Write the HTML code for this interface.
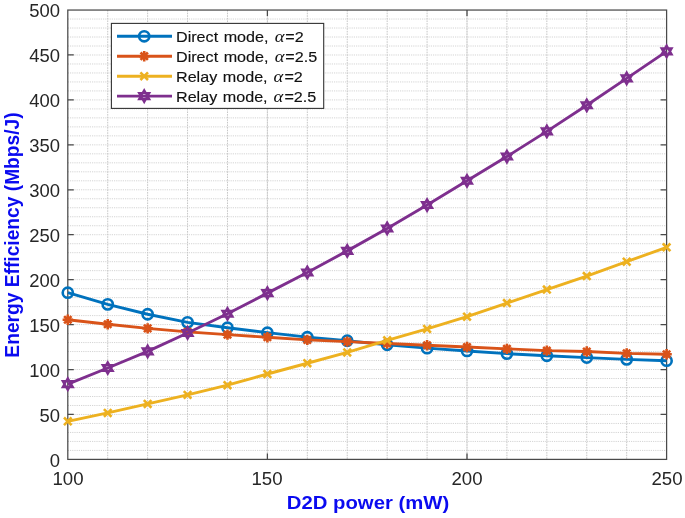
<!DOCTYPE html>
<html><head><meta charset="utf-8"><title>chart</title>
<style>
html,body{margin:0;padding:0;background:#fff}
#c{position:relative;width:685px;height:518px;overflow:hidden;background:#fff;font-family:"Liberation Sans",sans-serif;color:#262626}
.yt,.xt,.lg,#xl,#yl span{will-change:transform}
.yt{position:absolute;left:0;width:60px;text-align:right;font-size:18.1px;line-height:20px;height:20px;white-space:nowrap;transform:scaleX(1.02);transform-origin:100% 50%}
.xt{position:absolute;top:468.8px;width:60px;text-align:center;font-size:18.1px;line-height:20px;height:20px;white-space:nowrap;transform:scaleX(1.03);transform-origin:50% 50%}
.lg{position:absolute;left:175.6px;font-size:15px;line-height:19px;height:19px;white-space:nowrap;color:#111;-webkit-text-stroke:0.15px #111;transform:scaleX(1.075);transform-origin:0 50%;word-spacing:1px}
.lg i{font-family:"Liberation Serif",serif;font-style:italic;font-size:16.5px;display:inline-block;transform:scaleX(1.05);margin:0 1px 0 0.8px;line-height:19px;-webkit-text-stroke:0}
#xl{position:absolute;left:267.5px;width:400px;margin-left:-100px;text-align:center;top:492.8px;font-size:19.1px;line-height:20px;font-weight:bold;color:#0a0af0;white-space:nowrap;transform:scaleX(1.063);transform-origin:50% 50%}
#yl{position:absolute;left:11.6px;top:234.8px;width:0;height:0}
#yl span{position:absolute;left:-200px;width:400px;top:-10px;height:20px;line-height:20px;text-align:center;font-size:19px;font-weight:bold;color:#0a0af0;white-space:nowrap;transform:rotate(-90deg) scale(1.01,1.09);transform-origin:50% 50%}
</style></head><body>
<div id="c">
<svg width="685" height="518" viewBox="0 0 685 518" style="position:absolute;left:0;top:0">
<rect width="685" height="518" fill="#fff"/>
<path d="M67.8 450.41H666.6M67.8 441.43H666.6M67.8 432.44H666.6M67.8 423.45H666.6M67.8 414.46H666.6M67.8 405.48H666.6M67.8 396.49H666.6M67.8 387.50H666.6M67.8 378.52H666.6M67.8 369.53H666.6M67.8 360.54H666.6M67.8 351.56H666.6M67.8 342.57H666.6M67.8 333.58H666.6M67.8 324.60H666.6M67.8 315.61H666.6M67.8 306.62H666.6M67.8 297.63H666.6M67.8 288.65H666.6M67.8 279.66H666.6M67.8 270.67H666.6M67.8 261.69H666.6M67.8 252.70H666.6M67.8 243.71H666.6M67.8 234.72H666.6M67.8 225.74H666.6M67.8 216.75H666.6M67.8 207.76H666.6M67.8 198.78H666.6M67.8 189.79H666.6M67.8 180.80H666.6M67.8 171.82H666.6M67.8 162.83H666.6M67.8 153.84H666.6M67.8 144.86H666.6M67.8 135.87H666.6M67.8 126.88H666.6M67.8 117.89H666.6M67.8 108.91H666.6M67.8 99.92H666.6M67.8 90.93H666.6M67.8 81.95H666.6M67.8 72.96H666.6M67.8 63.97H666.6M67.8 54.99H666.6M67.8 46.00H666.6M67.8 37.01H666.6M67.8 28.02H666.6M67.8 19.04H666.6" stroke="#d4d4d4" stroke-width="1" stroke-dasharray="1.2 1" fill="none"/>
<path d="M267.40 10.05V459.4M467.00 10.05V459.4" stroke="#e4e4e4" stroke-width="1" fill="none"/>
<path d="M107.72 10.05V459.4M147.64 10.05V459.4M187.56 10.05V459.4M227.48 10.05V459.4M267.40 10.05V459.4M307.32 10.05V459.4M347.24 10.05V459.4M387.16 10.05V459.4M427.08 10.05V459.4M467.00 10.05V459.4M506.92 10.05V459.4M546.84 10.05V459.4M586.76 10.05V459.4M626.68 10.05V459.4" stroke="#c6c6c6" stroke-width="1" stroke-dasharray="1.6 1" fill="none"/>
<rect x="67.8" y="10.05" width="598.8000000000001" height="449.34999999999997" fill="none" stroke="#4a4a4a" stroke-width="1.25"/>
<path d="M267.40 459.4v-6M267.40 10.05v6M467.00 459.4v-6M467.00 10.05v6M67.8 414.46h6M666.6 414.46h-6M67.8 369.53h6M666.6 369.53h-6M67.8 324.60h6M666.6 324.60h-6M67.8 279.66h6M666.6 279.66h-6M67.8 234.72h6M666.6 234.72h-6M67.8 189.79h6M666.6 189.79h-6M67.8 144.86h6M666.6 144.86h-6M67.8 99.92h6M666.6 99.92h-6M67.8 54.99h6M666.6 54.99h-6" stroke="#4a4a4a" stroke-width="1.25" fill="none"/>
<g>
<polyline points="67.80,292.69 107.72,304.37 147.64,314.26 187.56,322.35 227.48,327.74 267.40,332.68 307.32,337.18 347.24,340.77 387.16,344.82 427.08,348.14 467.00,350.93 506.92,353.62 546.84,355.78 586.76,357.58 626.68,359.37 666.60,360.72" fill="none" stroke="#0072BD" stroke-width="2.9" stroke-linejoin="round"/><circle cx="67.80" cy="292.69" r="5.1" fill="none" stroke="#0072BD" stroke-width="2.6"/><circle cx="107.72" cy="304.37" r="5.1" fill="none" stroke="#0072BD" stroke-width="2.6"/><circle cx="147.64" cy="314.26" r="5.1" fill="none" stroke="#0072BD" stroke-width="2.6"/><circle cx="187.56" cy="322.35" r="5.1" fill="none" stroke="#0072BD" stroke-width="2.6"/><circle cx="227.48" cy="327.74" r="5.1" fill="none" stroke="#0072BD" stroke-width="2.6"/><circle cx="267.40" cy="332.68" r="5.1" fill="none" stroke="#0072BD" stroke-width="2.6"/><circle cx="307.32" cy="337.18" r="5.1" fill="none" stroke="#0072BD" stroke-width="2.6"/><circle cx="347.24" cy="340.77" r="5.1" fill="none" stroke="#0072BD" stroke-width="2.6"/><circle cx="387.16" cy="344.82" r="5.1" fill="none" stroke="#0072BD" stroke-width="2.6"/><circle cx="427.08" cy="348.14" r="5.1" fill="none" stroke="#0072BD" stroke-width="2.6"/><circle cx="467.00" cy="350.93" r="5.1" fill="none" stroke="#0072BD" stroke-width="2.6"/><circle cx="506.92" cy="353.62" r="5.1" fill="none" stroke="#0072BD" stroke-width="2.6"/><circle cx="546.84" cy="355.78" r="5.1" fill="none" stroke="#0072BD" stroke-width="2.6"/><circle cx="586.76" cy="357.58" r="5.1" fill="none" stroke="#0072BD" stroke-width="2.6"/><circle cx="626.68" cy="359.37" r="5.1" fill="none" stroke="#0072BD" stroke-width="2.6"/><circle cx="666.60" cy="360.72" r="5.1" fill="none" stroke="#0072BD" stroke-width="2.6"/>
<polyline points="67.80,319.74 107.72,324.24 147.64,328.37 187.56,331.87 227.48,334.66 267.40,337.18 307.32,339.87 347.24,341.67 387.16,343.47 427.08,345.27 467.00,347.06 506.92,348.86 546.84,350.66 586.76,351.56 626.68,353.35 666.60,354.25" fill="none" stroke="#D95319" stroke-width="2.9" stroke-linejoin="round"/><path d="M62.60 319.74H73.00M67.80 314.54V324.94M64.12 316.07L71.48 323.42M64.12 323.42L71.48 316.07" stroke="#D95319" stroke-width="2.6" fill="none"/><path d="M102.52 324.24H112.92M107.72 319.04V329.44M104.04 320.56L111.40 327.91M104.04 327.91L111.40 320.56" stroke="#D95319" stroke-width="2.6" fill="none"/><path d="M142.44 328.37H152.84M147.64 323.17V333.57M143.96 324.69L151.32 332.05M143.96 332.05L151.32 324.69" stroke="#D95319" stroke-width="2.6" fill="none"/><path d="M182.36 331.87H192.76M187.56 326.67V337.07M183.88 328.20L191.24 335.55M183.88 335.55L191.24 328.20" stroke="#D95319" stroke-width="2.6" fill="none"/><path d="M222.28 334.66H232.68M227.48 329.46V339.86M223.80 330.98L231.16 338.34M223.80 338.34L231.16 330.98" stroke="#D95319" stroke-width="2.6" fill="none"/><path d="M262.20 337.18H272.60M267.40 331.98V342.38M263.72 333.50L271.08 340.85M263.72 340.85L271.08 333.50" stroke="#D95319" stroke-width="2.6" fill="none"/><path d="M302.12 339.87H312.52M307.32 334.67V345.07M303.64 336.20L311.00 343.55M303.64 343.55L311.00 336.20" stroke="#D95319" stroke-width="2.6" fill="none"/><path d="M342.04 341.67H352.44M347.24 336.47V346.87M343.56 337.99L350.92 345.35M343.56 345.35L350.92 337.99" stroke="#D95319" stroke-width="2.6" fill="none"/><path d="M381.96 343.47H392.36M387.16 338.27V348.67M383.48 339.79L390.84 347.14M383.48 347.14L390.84 339.79" stroke="#D95319" stroke-width="2.6" fill="none"/><path d="M421.88 345.27H432.28M427.08 340.07V350.47M423.40 341.59L430.76 348.94M423.40 348.94L430.76 341.59" stroke="#D95319" stroke-width="2.6" fill="none"/><path d="M461.80 347.06H472.20M467.00 341.86V352.26M463.32 343.39L470.68 350.74M463.32 350.74L470.68 343.39" stroke="#D95319" stroke-width="2.6" fill="none"/><path d="M501.72 348.86H512.12M506.92 343.66V354.06M503.24 345.18L510.60 352.54M503.24 352.54L510.60 345.18" stroke="#D95319" stroke-width="2.6" fill="none"/><path d="M541.64 350.66H552.04M546.84 345.46V355.86M543.16 346.98L550.52 354.33M543.16 354.33L550.52 346.98" stroke="#D95319" stroke-width="2.6" fill="none"/><path d="M581.56 351.56H591.96M586.76 346.36V356.76M583.08 347.88L590.44 355.23M583.08 355.23L590.44 347.88" stroke="#D95319" stroke-width="2.6" fill="none"/><path d="M621.48 353.35H631.88M626.68 348.15V358.55M623.00 349.68L630.36 357.03M623.00 357.03L630.36 349.68" stroke="#D95319" stroke-width="2.6" fill="none"/><path d="M661.40 354.25H671.80M666.60 349.05V359.45M662.92 350.58L670.28 357.93M662.92 357.93L670.28 350.58" stroke="#D95319" stroke-width="2.6" fill="none"/>
<polyline points="67.80,421.30 107.72,412.94 147.64,403.95 187.56,394.87 227.48,385.17 267.40,374.02 307.32,363.24 347.24,352.45 387.16,340.32 427.08,328.91 467.00,316.69 506.92,303.03 546.84,289.55 586.76,276.07 626.68,261.69 666.60,247.31" fill="none" stroke="#EDB120" stroke-width="2.9" stroke-linejoin="round"/><path d="M64.00 417.50L71.60 425.10M64.00 425.10L71.60 417.50" stroke="#EDB120" stroke-width="2.6" fill="none"/><path d="M103.92 409.14L111.52 416.74M103.92 416.74L111.52 409.14" stroke="#EDB120" stroke-width="2.6" fill="none"/><path d="M143.84 400.15L151.44 407.75M143.84 407.75L151.44 400.15" stroke="#EDB120" stroke-width="2.6" fill="none"/><path d="M183.76 391.07L191.36 398.67M183.76 398.67L191.36 391.07" stroke="#EDB120" stroke-width="2.6" fill="none"/><path d="M223.68 381.37L231.28 388.97M223.68 388.97L231.28 381.37" stroke="#EDB120" stroke-width="2.6" fill="none"/><path d="M263.60 370.22L271.20 377.82M263.60 377.82L271.20 370.22" stroke="#EDB120" stroke-width="2.6" fill="none"/><path d="M303.52 359.44L311.12 367.04M303.52 367.04L311.12 359.44" stroke="#EDB120" stroke-width="2.6" fill="none"/><path d="M343.44 348.65L351.04 356.25M343.44 356.25L351.04 348.65" stroke="#EDB120" stroke-width="2.6" fill="none"/><path d="M383.36 336.52L390.96 344.12M383.36 344.12L390.96 336.52" stroke="#EDB120" stroke-width="2.6" fill="none"/><path d="M423.28 325.11L430.88 332.71M423.28 332.71L430.88 325.11" stroke="#EDB120" stroke-width="2.6" fill="none"/><path d="M463.20 312.89L470.80 320.49M463.20 320.49L470.80 312.89" stroke="#EDB120" stroke-width="2.6" fill="none"/><path d="M503.12 299.23L510.72 306.83M503.12 306.83L510.72 299.23" stroke="#EDB120" stroke-width="2.6" fill="none"/><path d="M543.04 285.75L550.64 293.35M543.04 293.35L550.64 285.75" stroke="#EDB120" stroke-width="2.6" fill="none"/><path d="M582.96 272.27L590.56 279.87M582.96 279.87L590.56 272.27" stroke="#EDB120" stroke-width="2.6" fill="none"/><path d="M622.88 257.89L630.48 265.49M622.88 265.49L630.48 257.89" stroke="#EDB120" stroke-width="2.6" fill="none"/><path d="M662.80 243.51L670.40 251.11M662.80 251.11L670.40 243.51" stroke="#EDB120" stroke-width="2.6" fill="none"/>
<polyline points="67.80,384.09 107.72,368.00 147.64,351.38 187.56,332.95 227.48,313.81 267.40,293.14 307.32,272.47 347.24,250.90 387.16,228.43 427.08,205.07 467.00,180.80 506.92,156.54 546.84,131.37 586.76,105.31 626.68,78.35 666.60,51.39" fill="none" stroke="#7E2F8E" stroke-width="2.9" stroke-linejoin="round"/><path d="M67.80 378.29L72.82 386.99L62.78 386.99ZM67.80 389.89L62.78 381.19L72.82 381.19Z" stroke="#7E2F8E" stroke-width="2.3" fill="none" stroke-linejoin="miter"/><path d="M107.72 362.20L112.74 370.90L102.70 370.90ZM107.72 373.80L102.70 365.10L112.74 365.10Z" stroke="#7E2F8E" stroke-width="2.3" fill="none" stroke-linejoin="miter"/><path d="M147.64 345.58L152.66 354.28L142.62 354.28ZM147.64 357.18L142.62 348.48L152.66 348.48Z" stroke="#7E2F8E" stroke-width="2.3" fill="none" stroke-linejoin="miter"/><path d="M187.56 327.15L192.58 335.85L182.54 335.85ZM187.56 338.75L182.54 330.05L192.58 330.05Z" stroke="#7E2F8E" stroke-width="2.3" fill="none" stroke-linejoin="miter"/><path d="M227.48 308.01L232.50 316.71L222.46 316.71ZM227.48 319.61L222.46 310.91L232.50 310.91Z" stroke="#7E2F8E" stroke-width="2.3" fill="none" stroke-linejoin="miter"/><path d="M267.40 287.34L272.42 296.04L262.38 296.04ZM267.40 298.94L262.38 290.24L272.42 290.24Z" stroke="#7E2F8E" stroke-width="2.3" fill="none" stroke-linejoin="miter"/><path d="M307.32 266.67L312.34 275.37L302.30 275.37ZM307.32 278.27L302.30 269.57L312.34 269.57Z" stroke="#7E2F8E" stroke-width="2.3" fill="none" stroke-linejoin="miter"/><path d="M347.24 245.10L352.26 253.80L342.22 253.80ZM347.24 256.70L342.22 248.00L352.26 248.00Z" stroke="#7E2F8E" stroke-width="2.3" fill="none" stroke-linejoin="miter"/><path d="M387.16 222.63L392.18 231.33L382.14 231.33ZM387.16 234.23L382.14 225.53L392.18 225.53Z" stroke="#7E2F8E" stroke-width="2.3" fill="none" stroke-linejoin="miter"/><path d="M427.08 199.27L432.10 207.97L422.06 207.97ZM427.08 210.87L422.06 202.17L432.10 202.17Z" stroke="#7E2F8E" stroke-width="2.3" fill="none" stroke-linejoin="miter"/><path d="M467.00 175.00L472.02 183.70L461.98 183.70ZM467.00 186.60L461.98 177.90L472.02 177.90Z" stroke="#7E2F8E" stroke-width="2.3" fill="none" stroke-linejoin="miter"/><path d="M506.92 150.74L511.94 159.44L501.90 159.44ZM506.92 162.34L501.90 153.64L511.94 153.64Z" stroke="#7E2F8E" stroke-width="2.3" fill="none" stroke-linejoin="miter"/><path d="M546.84 125.57L551.86 134.27L541.82 134.27ZM546.84 137.17L541.82 128.47L551.86 128.47Z" stroke="#7E2F8E" stroke-width="2.3" fill="none" stroke-linejoin="miter"/><path d="M586.76 99.51L591.78 108.21L581.74 108.21ZM586.76 111.11L581.74 102.41L591.78 102.41Z" stroke="#7E2F8E" stroke-width="2.3" fill="none" stroke-linejoin="miter"/><path d="M626.68 72.55L631.70 81.25L621.66 81.25ZM626.68 84.15L621.66 75.45L631.70 75.45Z" stroke="#7E2F8E" stroke-width="2.3" fill="none" stroke-linejoin="miter"/><path d="M666.60 45.59L671.62 54.29L661.58 54.29ZM666.60 57.19L661.58 48.49L671.62 48.49Z" stroke="#7E2F8E" stroke-width="2.3" fill="none" stroke-linejoin="miter"/>
</g>
<rect x="111.4" y="23.4" width="212.3" height="85" fill="#fff" stroke="#333" stroke-width="1.1"/>
<path d="M117 36.3H172" stroke="#0072BD" stroke-width="2.9"/>
<circle cx="144.20" cy="36.30" r="5.1" fill="none" stroke="#0072BD" stroke-width="2.6"/>
<path d="M117 56.2H172" stroke="#D95319" stroke-width="2.9"/>
<path d="M139.00 56.20H149.40M144.20 51.00V61.40M140.52 52.52L147.88 59.88M140.52 59.88L147.88 52.52" stroke="#D95319" stroke-width="2.6" fill="none"/>
<path d="M117 76.2H172" stroke="#EDB120" stroke-width="2.9"/>
<path d="M140.40 72.40L148.00 80.00M140.40 80.00L148.00 72.40" stroke="#EDB120" stroke-width="2.6" fill="none"/>
<path d="M117 96.1H172" stroke="#7E2F8E" stroke-width="2.9"/>
<path d="M144.20 90.30L149.22 99.00L139.18 99.00ZM144.20 101.90L139.18 93.20L149.22 93.20Z" stroke="#7E2F8E" stroke-width="2.3" fill="none" stroke-linejoin="miter"/>
</svg>
<div class="yt" style="top:450.50px">0</div><div class="yt" style="top:405.51px">50</div><div class="yt" style="top:360.53px">100</div><div class="yt" style="top:315.55px">150</div><div class="yt" style="top:270.56px">200</div><div class="yt" style="top:225.57px">250</div><div class="yt" style="top:180.59px">300</div><div class="yt" style="top:135.61px">350</div><div class="yt" style="top:90.62px">400</div><div class="yt" style="top:45.64px">450</div><div class="yt" style="top:0.65px">500</div><div class="xt" style="left:37.80px">100</div><div class="xt" style="left:237.40px">150</div><div class="xt" style="left:437.00px">200</div><div class="xt" style="left:636.60px">250</div><div class="lg" style="top:26.80px">Direct mode, <i>α</i>=2</div><div class="lg" style="top:46.70px">Direct mode, <i>α</i>=2.5</div><div class="lg" style="top:66.70px">Relay mode, <i>α</i>=2</div><div class="lg" style="top:86.60px">Relay mode, <i>α</i>=2.5</div>
<div id="xl">D2D power (mW)</div>
<div id="yl"><span>Energy Efficiency (Mbps/J)</span></div>
</div>
</body></html>
